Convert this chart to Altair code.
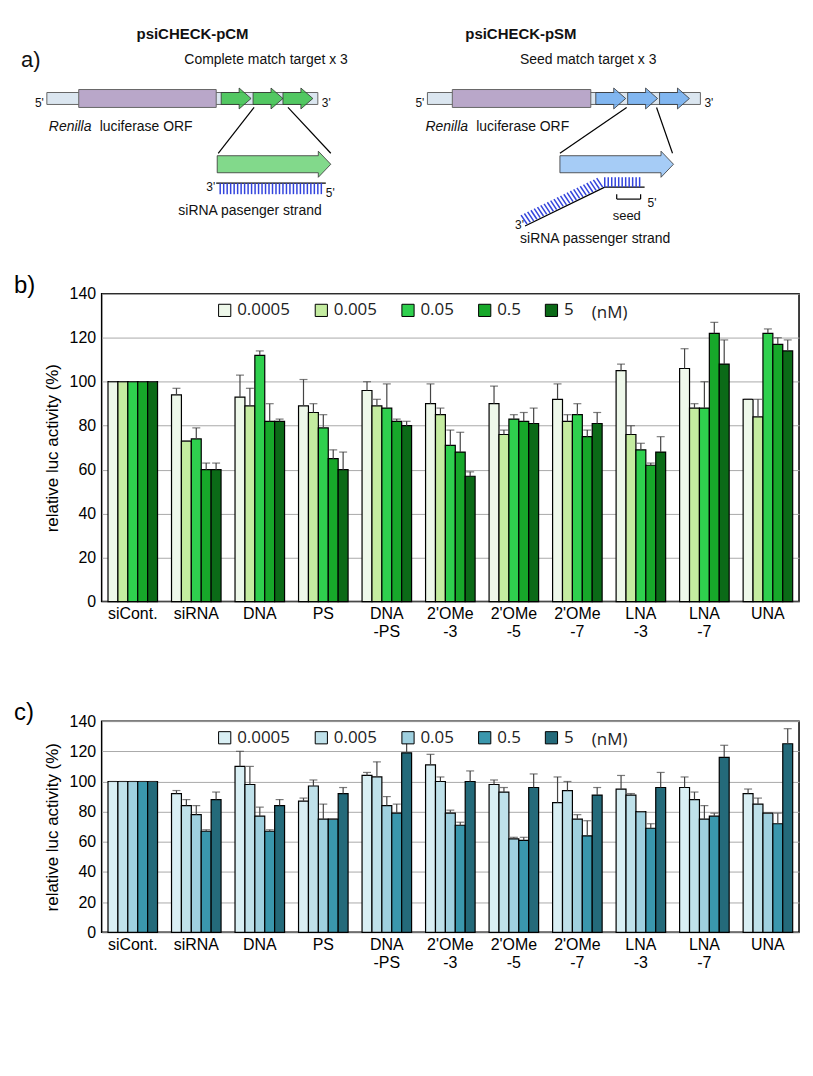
import altair as alt
import pandas as pd

groups = ["siCont.", "siRNA", "DNA", "PS", "DNA|-PS", "2'OMe|-3", "2'OMe|-5",
          "2'OMe|-7", "LNA|-3", "LNA|-7", "UNA"]
conc = ["0.0005", "0.005", "0.05", "0.5", "5"]

# panel b (pCM), one list per concentration
b_vals = [
    [100, 94, 93, 89, 96, 90, 90, 92, 105, 106, 92],
    [100, 73, 89, 86, 89, 85, 76, 82, 76, 88, 84],
    [100, 74, 112, 79, 88, 71, 83, 85, 69, 88, 122],
    [100, 60, 82, 65, 82, 68, 82, 75, 62, 122, 117],
    [100, 60, 82, 60, 80, 57, 81, 81, 68, 108, 114],
]
b_err = [
    [0, 3, 10, 12, 4, 9, 8, 7, 3, 9, 0],
    [0, 0, 8, 4, 3, 3, 2, 3, 4, 2, 8],
    [0, 5, 2, 6, 11, 7, 2, 5, 3, 12, 2],
    [0, 3, 8, 4, 1, 9, 4, 3, 1, 5, 3],
    [0, 3, 1, 8, 2, 2, 7, 5, 7, 11, 5],
]
# panel c (pSM)
c_vals = [
    [100, 92, 110, 87, 104, 111, 98, 86, 95, 96, 92],
    [100, 84, 98, 97, 103, 100, 93, 94, 91, 88, 85],
    [100, 78, 77, 75, 84, 79, 62, 75, 80, 75, 79],
    [100, 67, 67, 75, 79, 71, 61, 64, 69, 77, 72],
    [100, 88, 84, 92, 119, 100, 96, 91, 96, 116, 125],
]
c_err = [
    [0, 2, 10, 2, 2, 7, 3, 17, 9, 7, 3],
    [0, 4, 12, 4, 10, 3, 3, 6, 1, 5, 4],
    [0, 6, 6, 10, 6, 2, 1, 3, 0, 9, 0],
    [0, 1, 1, 0, 6, 2, 2, 10, 3, 2, 7],
    [0, 5, 4, 4, 11, 7, 9, 5, 10, 8, 10],
]

green = ["#eef8ea", "#c4eca0", "#2fd04e", "#17a82a", "#0b6a17"]
blue = ["#d9eff4", "#bfe1ea", "#9fd0df", "#3a97ad", "#246a7a"]

FONT = "Liberation Sans"
y_ticks = [0, 20, 40, 60, 80, 100, 120, 140]


def table(vals, errs):
    rows = []
    for ci, c in enumerate(conc):
        for gi, g in enumerate(groups):
            rows.append({"group": g, "conc": c, "value": vals[ci][gi],
                         "top": vals[ci][gi] + errs[ci][gi]})
    return pd.DataFrame(rows)


def bar_panel(vals, errs, colors, letter):
    df = table(vals, errs)
    yaxis = alt.Axis(values=y_ticks, labelFontSize=16,
                     labelFont=FONT, titleFont=FONT, titleFontSize=17,
                     titleFontWeight="normal", labelColor="black",
                     labelOverlap=False, labelPadding=6,
                     gridColor="#aaaaaa", domain=False, ticks=False,
                     titlePadding=8)
    base = alt.Chart(df).encode(
        x=alt.X("group:N", sort=groups, title=None,
                scale=alt.Scale(paddingInner=0.22, paddingOuter=0.1),
                axis=alt.Axis(labelExpr="split(datum.label, '|')", labelAngle=0,
                              labelFontSize=16, labelFont=FONT, labelColor="black",
                              ticks=False, domain=False, labelPadding=4)),
        xOffset=alt.XOffset("conc:N", sort=conc),
    )
    bars = base.mark_bar(stroke="black", strokeWidth=1.2).encode(
        y=alt.Y("value:Q", scale=alt.Scale(domain=[0, 140]),
                title="relative luc activity (%)", axis=yaxis),
        color=alt.Color("conc:N", sort=conc, scale=alt.Scale(domain=conc, range=colors),
                        legend=alt.Legend(orient="none", legendX=115, legendY=8,
                                          direction="horizontal", title=None,
                                          symbolType="square", symbolSize=150,
                                          symbolStrokeColor="black", symbolStrokeWidth=1,
                                          labelFontSize=17, labelFont="Open Sans",
                                          columnPadding=22, labelColor="#222")),
    )
    rules = base.mark_rule(color="#444", strokeWidth=1.2).encode(
        y=alt.Y("value:Q", title="relative luc activity (%)", axis=yaxis), y2="top:Q")
    caps = base.mark_tick(color="#444", thickness=1.2, size=8, orient="horizontal").encode(
        y=alt.Y("top:Q", title="relative luc activity (%)", axis=yaxis))
    unit = alt.Chart(pd.DataFrame({"t": ["(nM)"]})).mark_text(
        fontSize=17, font="Open Sans", align="left", color="#222").encode(
        text="t:N", x=alt.value(492), y=alt.value(19))
    lab = alt.Chart(pd.DataFrame({"t": [letter]})).mark_text(
        fontSize=24, font=FONT, align="left").encode(
        text="t:N", x=alt.value(-88), y=alt.value(-8))
    return alt.layer(bars, rules, caps, unit, lab)


# ---- panel a: construct diagram (page-like coordinates) ----
texts = pd.DataFrame([
    {"x": 14, "y": 48, "t": "a)", "s": 22, "st": "n"},
    {"x": 130, "y": 22, "t": "psiCHECK-pCM", "s": 15, "st": "b"},
    {"x": 178, "y": 48, "t": "Complete match target x 3", "s": 14, "st": "n"},
    {"x": 28, "y": 92, "t": "5'", "s": 12, "st": "n"},
    {"x": 316, "y": 92, "t": "3'", "s": 12, "st": "n"},
    {"x": 42, "y": 116, "t": "Renilla", "s": 14, "st": "i"},
    {"x": 93, "y": 116, "t": "luciferase ORF", "s": 14, "st": "n"},
    {"x": 200, "y": 176, "t": "3'", "s": 12, "st": "n"},
    {"x": 320, "y": 182, "t": "5'", "s": 12, "st": "n"},
    {"x": 172, "y": 200, "t": "siRNA pasenger strand", "s": 14, "st": "n"},
    {"x": 460, "y": 22, "t": "psiCHECK-pSM", "s": 15, "st": "b"},
    {"x": 515, "y": 48, "t": "Seed match target x 3", "s": 14, "st": "n"},
    {"x": 410, "y": 92, "t": "5'", "s": 12, "st": "n"},
    {"x": 700, "y": 92, "t": "3'", "s": 12, "st": "n"},
    {"x": 420, "y": 116, "t": "Renilla", "s": 14, "st": "i"},
    {"x": 471, "y": 116, "t": "luciferase ORF", "s": 14, "st": "n"},
    {"x": 608, "y": 205, "t": "seed", "s": 13, "st": "n"},
    {"x": 643, "y": 192, "t": "5'", "s": 12, "st": "n"},
    {"x": 510, "y": 214, "t": "3'", "s": 12, "st": "n"},
    {"x": 515, "y": 228, "t": "siRNA passenger strand", "s": 14, "st": "n"},
])
rects = pd.DataFrame([
    {"x": 40, "x2": 312, "y": 81, "y2": 93, "f": "#dbe6f0"},
    {"x": 72, "x2": 210, "y": 78, "y2": 96, "f": "#b9a7c9"},
    {"x": 422, "x2": 696, "y": 81, "y2": 93, "f": "#dbe6f0"},
    {"x": 447, "x2": 586, "y": 78, "y2": 96, "f": "#b9a7c9"},
])
arrows = pd.DataFrame([
    {"x": 230, "y": 87, "c": "#2fbf3e", "k": "s"}, {"x": 262, "y": 87, "c": "#2fbf3e", "k": "s"},
    {"x": 292, "y": 87, "c": "#2fbf3e", "k": "s"},
    {"x": 606, "y": 87, "c": "#6aaaf0", "k": "s"}, {"x": 638, "y": 87, "c": "#6aaaf0", "k": "s"},
    {"x": 670, "y": 87, "c": "#6aaaf0", "k": "s"},
    {"x": 268, "y": 153, "c": "#2fbf3e", "k": "b"}, {"x": 612, "y": 153, "c": "#6aaaf0", "k": "b"},
])
lines = pd.DataFrame([
    {"x": 248, "y": 96, "x2": 212, "y2": 142}, {"x": 282, "y": 96, "x2": 325, "y2": 142},
    {"x": 622, "y": 96, "x2": 555, "y2": 142}, {"x": 652, "y": 96, "x2": 668, "y2": 142},
    {"x": 210, "y": 172, "x2": 320, "y2": 172},
    {"x": 600, "y": 176, "x2": 640, "y2": 176},
    {"x": 520, "y": 215, "x2": 600, "y2": 176},
    {"x": 612, "y": 183, "x2": 612, "y2": 188}, {"x": 612, "y": 188, "x2": 636, "y2": 188},
    {"x": 636, "y": 183, "x2": 636, "y2": 188},
])
hatch_l = pd.DataFrame({"x": [214 + 3.5 * i for i in range(30)]})
hatch_r = pd.DataFrame({"x": [600 + 3.5 * i for i in range(11)]})
hatch_d = pd.DataFrame({"x": [522 + 3.3 * i for i in range(24)]})
hatch_d["y"] = 214 - (hatch_d["x"] - 520) * 39 / 80

OFF = 95  # left offset of the plot column on the page
sx = alt.Scale(domain=[OFF, OFF + 700])
sy = alt.Scale(domain=[4, 236], reverse=True)


def X(f):
    return alt.X(f, scale=sx, axis=None)


def Y(f):
    return alt.Y(f, scale=sy, axis=None)


small_arrow = "M-1,-0.4 L0.2,-0.4 L0.2,-0.7 L1,0 L0.2,0.7 L0.2,0.4 L-1,0.4 Z"
big_arrow = "M-1,-0.15 L0.78,-0.15 L0.78,-0.23 L1,0 L0.78,0.23 L0.78,0.15 L-1,0.15 Z"

d_rect = alt.Chart(rects).mark_rect(stroke="#666", strokeWidth=1).encode(
    x=X("x:Q"), x2="x2:Q", y=Y("y:Q"), y2="y2:Q",
    fill=alt.Fill("f:N", scale=None))
d_small = alt.Chart(arrows[arrows.k == "s"]).mark_point(
    shape=small_arrow, size=900, filled=True, fillOpacity=0.8, stroke="#333",
    strokeWidth=0.8).encode(x=X("x:Q"), y=Y("y:Q"), fill=alt.Fill("c:N", scale=None))
d_big = alt.Chart(arrows[arrows.k == "b"]).mark_point(
    shape=big_arrow, size=13000, filled=True, fillOpacity=0.6, stroke="#333",
    strokeWidth=0.8).encode(x=X("x:Q"), y=Y("y:Q"), fill=alt.Fill("c:N", scale=None))
d_lines = alt.Chart(lines).mark_rule(color="black", strokeWidth=1.2).encode(
    x=X("x:Q"), x2="x2:Q", y=Y("y:Q"), y2="y2:Q")
d_hl = alt.Chart(hatch_l).mark_rule(color="#3344dd", strokeWidth=1.5).transform_calculate(
    a="172", b="183").encode(x=X("x:Q"), y=Y("a:Q"), y2="b:Q")
d_hr = alt.Chart(hatch_r).mark_rule(color="#3344dd", strokeWidth=1.5).transform_calculate(
    a="166", b="176").encode(x=X("x:Q"), y=Y("a:Q"), y2="b:Q")
d_hd = alt.Chart(hatch_d).mark_rule(color="#3344dd", strokeWidth=1.5).transform_calculate(
    x2="datum.x - 6", y2="datum.y - 9").encode(x=X("x:Q"), x2="x2:Q", y=Y("y:Q"), y2="y2:Q")

tlayers = []
for size in sorted(texts["s"].unique()):
    for st in ["n", "b", "i"]:
        sub = texts[(texts.s == size) & (texts.st == st)]
        if len(sub) == 0:
            continue
        tlayers.append(alt.Chart(sub).mark_text(
            align="left", font=FONT, color="#111", fontSize=int(size),
            fontWeight="bold" if st == "b" else "normal",
            fontStyle="italic" if st == "i" else "normal").encode(
            x=X("x:Q"), y=Y("y:Q"), text="t:N"))

diagram = alt.layer(d_rect, d_lines, d_big, d_small, d_hl, d_hr, d_hd,
                    *tlayers).properties(width=700, height=232,
                                         view=alt.ViewConfig(stroke="transparent"))

panel_b = bar_panel(b_vals, b_err, green, "b)").properties(width=700, height=309)
panel_c = bar_panel(c_vals, c_err, blue, "c)").properties(width=700, height=212)

lower = alt.vconcat(panel_b, panel_c, spacing=60).resolve_scale(
    color="independent", x="independent", y="independent")
chart = alt.vconcat(diagram, lower, spacing=25).resolve_scale(
    color="independent", x="independent", y="independent").configure_view(
    stroke="black", strokeWidth=1.5).configure_axis(labelOverlap=False)

chart.save("out.html", embed_options={"renderer": "svg", "actions": False})
